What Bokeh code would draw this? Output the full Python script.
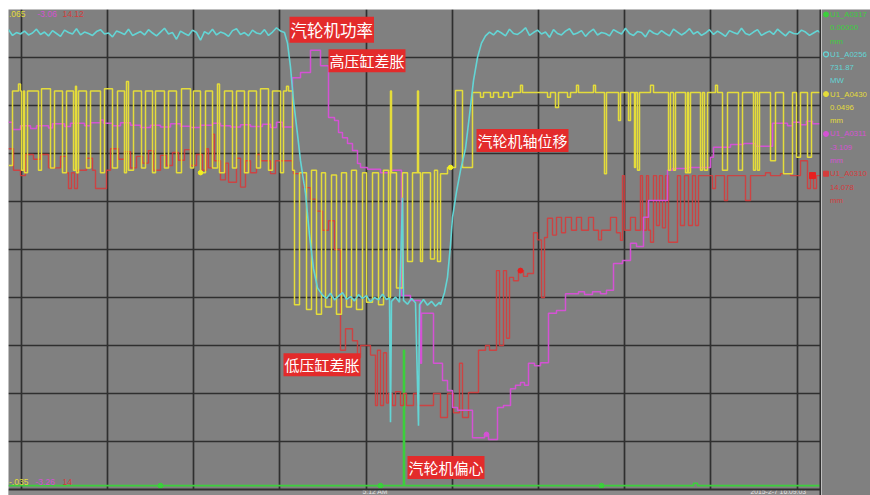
import numpy as np
from bokeh.plotting import figure
from bokeh.layouts import row, column
from bokeh.models import (Range1d, Grid, FixedTicker, Span, BoxAnnotation, Label,
                          ColumnDataSource, Spacer)
from bokeh.core.properties import value
from bokeh.embed import file_html
from bokeh.resources import INLINE

# ---------------------------------------------------------------------------
# Trend data. x = sample number across the window (0 .. 813),
# y = position inside each tag's own scale, in percent of the span (0 .. 100).
# ---------------------------------------------------------------------------
N_SAMPLES = 813

# turbine power (U1_A0256) - noisy plateau before the load drop
power_before = [95.8, 94.6, 95.2, 94.9, 95.5, 94.7, 95.1, 95.9, 94.8, 95.3,
                94.5, 95.6, 95.0, 94.4, 95.7, 95.2, 94.9, 96.0, 94.7, 95.3,
                95.0, 94.6, 95.4, 95.8, 94.9, 95.1, 94.3, 95.5, 95.2, 94.8,
                95.9, 94.6, 95.0, 95.4, 94.7, 95.8, 95.1, 94.5, 95.3, 96.1,
                94.9, 95.2, 93.8, 95.5, 95.0, 94.6, 95.7, 95.2, 93.6, 95.4,
                94.9, 95.9, 94.7, 95.3, 95.0, 94.4, 95.6, 96.0, 94.8, 95.2,
                94.5, 95.7, 95.1, 94.9, 95.8, 94.6, 95.3, 96.2, 95.5]
power_before_span = (0, 272)
# load drop, low-load period and recovery
power_mid_x = [276, 279, 282, 285, 289, 292, 297, 301, 305, 309, 314,
               318, 322, 326, 330, 334, 338, 342, 346, 350, 354, 358, 362,
               366, 370, 374, 378, 381, 382, 383, 387, 391, 394, 395, 399,
               403, 407, 410, 411, 415, 419, 423, 427, 431,
               432, 436, 439, 442, 444, 448, 452, 457, 461, 465, 469, 473, 477]
power_mid_y = [95.2, 93.0, 88.0, 81.0, 74.0, 68.5, 61.7, 53.0, 46.0, 42.0, 40.5,
               39.8, 40.9, 39.5, 40.3, 41.0, 39.6, 40.2, 39.3, 40.6, 39.8, 40.4, 39.1,
               40.0, 39.5, 40.7, 39.6, 39.9, 14.0, 39.2, 40.1, 39.0, 60.8, 39.4, 38.6,
               39.8, 38.9, 13.3, 38.5, 39.6, 38.4, 39.2, 38.2, 39.0,
               38.5, 41.0, 44.2, 51.0, 56.7, 62.0, 66.5, 71.0, 78.0, 85.2, 90.0, 93.0, 94.5]
# noisy plateau after recovery
power_after = [95.3, 94.7, 95.6, 95.1, 94.5, 95.9, 95.0, 94.8, 95.4, 96.2,
               94.6, 95.2, 95.7, 94.9, 95.3, 94.2, 95.8, 95.0, 94.7, 95.5,
               96.0, 94.8, 95.1, 95.6, 94.4, 95.3, 95.9, 94.7, 95.2, 95.0,
               94.5, 95.8, 95.3, 94.9, 96.1, 95.0, 94.6, 95.4, 95.2, 94.3,
               95.7, 95.1, 94.8, 95.6, 95.0, 94.5, 95.9, 95.3, 94.7, 95.2,
               96.0, 94.9, 95.4, 94.6, 95.1, 95.8, 94.8, 95.5, 95.0, 94.4,
               95.6, 95.2, 94.9, 96.1, 95.0, 94.7, 95.3, 95.8, 94.6, 95.1,
               95.5, 94.8, 95.9, 95.2, 94.5, 95.4, 95.0, 94.9, 95.7, 95.3,
               94.6, 95.1, 95.6, 95.0]
power_after_span = (481, 813)

# turbine axial displacement (U1_A0430), stepped record
axial_x = [0, 4, 10, 12, 13, 15, 16, 19, 30, 33, 42, 46, 54, 58, 65, 67, 68, 70,
           78, 82, 92, 96, 104, 109, 116, 118, 120, 125, 133, 137, 144, 147, 156,
           160, 168, 173, 182, 185, 192, 197, 204, 209, 211, 216, 224, 228, 236,
           240, 248, 252, 260, 264, 272, 275, 278, 280, 284,
           286, 291, 298, 303, 308, 313, 317, 323, 328, 333, 338, 343, 348, 354,
           358, 364, 370, 375, 380, 382, 383, 388, 394, 399, 404, 409, 410, 412,
           414, 422, 426, 429, 432, 439, 447, 454, 464,
           472, 475, 482, 485, 490, 495, 500, 504, 512, 514, 539, 542, 547, 550,
           559, 562, 568, 570, 585, 587, 596, 598, 610, 612, 620, 622, 626, 627,
           629, 631, 642, 645, 660, 662, 665, 667, 677, 679, 680, 682, 692, 694,
           696, 699, 707, 709, 714, 719, 730, 734, 745, 747, 749, 751, 762, 767,
           775, 784, 788, 792, 799, 803, 813]
axial_y = [67.5, 83.0, 84.5, 83.0, 66.5, 83.0, 66.0, 83.0, 66.5, 83.5, 67.0, 83.0,
           66.0, 83.0, 66.5, 84.0, 66.0, 83.0, 67.0, 83.0, 66.0, 83.5, 67.0, 83.0,
           66.0, 85.0, 66.5, 83.0, 67.0, 83.0, 66.0, 83.0, 67.0, 83.0, 66.0, 83.5,
           67.0, 83.0, 66.0, 83.0, 67.0, 84.5, 66.0, 83.0, 67.0, 83.0, 66.0, 83.0,
           67.0, 83.5, 66.5, 83.0, 66.0, 83.0, 84.0, 83.0, 66.5,
           38.5, 66.0, 37.5, 66.5, 36.5, 66.0, 38.0, 65.5, 36.5, 66.0, 38.0, 66.5,
           37.5, 66.0, 39.0, 66.0, 38.5, 66.5, 40.0, 83.0, 66.0, 42.0, 66.0, 47.5,
           66.0, 83.0, 66.0, 47.5, 66.0, 48.0, 66.5, 47.5, 65.8, 67.1, 83.1, 67.1,
           82.7,
           81.7, 82.7, 81.7, 82.7, 81.7, 82.7, 81.7, 82.7, 84.2, 82.7, 81.7, 82.7,
           79.6, 82.7, 81.7, 82.7, 84.2, 82.7, 84.2, 82.7, 65.8, 82.7, 76.9, 82.7,
           76.9, 82.7, 67.1, 82.7, 66.5, 82.7, 84.2, 82.7, 66.5, 82.7, 66.5, 82.7,
           66.0, 82.7, 66.0, 82.7, 66.5, 82.7, 66.5, 82.7, 84.2, 82.7, 66.5, 82.7,
           66.5, 82.7, 66.5, 82.7, 66.5, 82.7, 68.5, 82.7, 65.8, 82.7, 69.2, 82.7,
           69.2, 82.7, 82.7]

# HP cylinder differential expansion (U1_A0311)
hp_x = [0, 4, 12, 22, 28, 40, 44, 56, 62, 76, 82, 92, 95, 104, 112, 122, 132, 142,
        152, 162, 172, 182, 192, 204, 212, 222, 232, 242, 254, 262, 268, 274,
        284, 292, 302, 312, 320, 326, 330, 334, 339, 344, 349, 352, 359, 372, 382,
        393, 402, 412, 413, 425, 434, 439, 444, 449, 464, 476, 480, 489, 495, 502,
        507, 512, 516, 520, 526, 532, 540, 548, 557, 570, 576, 584, 592, 598, 605,
        614, 622, 628, 635, 640, 659, 664, 679, 702, 705, 722, 735, 747, 764, 779,
        784, 792, 798, 804, 813]
hp_y = [76.5, 75.0, 75.8, 75.2, 75.8, 75.3, 76.2, 75.6, 76.3, 75.8, 76.4, 77.0, 76.3,
        75.8, 76.4, 75.9, 75.4, 75.9, 75.5, 76.2, 75.7, 75.4, 75.9, 76.3, 75.8, 75.5,
        76.0, 75.6, 76.1, 75.4, 76.5, 75.5,
        85.8, 86.9, 91.5, 88.3, 77.5, 76.9, 74.4, 73.3, 72.1, 70.6, 67.9, 67.1, 66.7,
        66.0, 66.5, 40.4, 39.4, 26.3, 36.7, 26.3, 22.7, 20.6, 17.1, 16.5, 10.8, 11.5,
        10.4, 17.1, 17.5, 21.0, 21.7, 22.3, 21.7, 26.3, 25.8, 26.4, 36.7, 37.3, 40.8,
        41.2, 40.6, 41.2, 40.8, 41.5, 47.1, 47.7, 51.3, 50.6, 56.7, 60.2, 66.5, 66.9,
        67.1, 69.2, 71.3, 71.9, 72.1, 71.5, 76.3, 75.8, 76.5, 76.0, 76.7, 76.2, 76.2]

# LP cylinder differential expansion (U1_A0310)
lp_x = [0, 5, 12, 17, 25, 32, 40, 52, 58, 60, 63, 66, 69, 78, 84, 87, 98, 102, 110,
        116, 122, 128, 134, 140, 145, 152, 158, 164, 170, 176, 182, 188, 194, 198,
        200, 204, 206, 212, 217, 220, 228, 232, 237, 242, 248, 252, 262, 267, 284,
        285, 295, 302, 308, 314, 320, 326, 332, 337, 344, 349, 352, 362, 367, 369,
        372, 375, 378, 380, 384, 387, 392, 395, 398, 405, 409, 425, 432, 439, 445,
        451, 454, 460, 470, 477, 481, 488, 491, 495, 498, 501, 505, 510, 515, 519,
        525, 529, 533, 536, 539, 544, 548, 553, 557, 563, 568, 573, 580, 585, 590,
        593, 602, 608, 612, 614, 616, 622, 627, 632, 634, 638, 640, 642, 645, 648,
        651, 654, 657, 660, 669, 672, 676, 680, 684, 687, 690, 704, 707, 716, 719,
        737, 742, 757, 762, 772, 782, 792, 799, 802, 805, 808, 813]
lp_y = [71.0, 66.5, 65.4, 69.8, 68.8, 69.8, 67.0, 69.4, 66.0, 62.7, 66.0, 62.7, 66.5,
        69.0, 66.5, 62.7, 66.5, 71.0, 68.8, 70.4, 67.0, 69.4, 68.0, 70.6, 66.5, 69.6,
        67.5, 70.2, 68.6, 70.8, 67.5, 69.8, 66.5, 71.0, 67.0, 74.0, 68.5, 64.5, 68.0,
        64.0, 69.0, 63.0, 68.5, 66.0, 69.8, 68.5, 65.8, 68.5, 66.5, 65.8, 62.9, 60.5,
        58.0, 54.0, 56.0, 50.0, 29.0, 33.5, 31.0, 27.5, 30.0, 28.0, 17.5, 29.0, 17.5,
        28.5, 18.0, 20.0, 17.5, 20.4, 17.5, 20.0, 17.5, 20.0, 17.5, 20.0, 15.0, 20.0,
        16.0, 26.3, 15.0, 20.2, 29.0, 30.0, 29.0, 45.6, 30.0, 45.6, 31.5, 44.2, 43.5,
        45.6, 44.4, 45.0, 53.5, 52.0, 40.0, 52.5, 56.5, 53.0, 56.7, 53.5, 56.7, 54.0,
        56.7, 54.0, 56.7, 54.0, 52.0, 54.0, 56.7, 53.5, 51.9, 65.4, 54.0, 56.7, 54.0,
        65.4, 54.0, 65.4, 54.0, 51.5, 65.4, 55.0, 65.4, 54.5, 65.4, 51.5, 65.4, 55.0,
        65.4, 55.0, 65.4, 55.0, 65.4, 62.7, 65.4, 60.2, 65.4, 60.2, 65.4, 66.0, 65.4,
        65.8, 65.4, 68.5, 62.7, 65.4, 62.7, 65.4, 65.4]

# turbine eccentricity (U1_A0317)
ecc_x = [0, 395, 396, 685, 689, 813]
ecc_y = [0.8, 29.0, 0.8, 1.3, 0.8, 0.8]

# sample numbers carrying a cursor dot on each trace
ecc_dots = [152, 372, 593]
axial_dots = [192, 442]
hp_dots = [478]
lp_dots = [512]
lp_cursor = [804]

# time grid (one line every 5 minutes) and the scale grid
time_grid = [12.7, 98.9, 185.1, 271.3, 357.5, 443.7, 529.9, 616.1, 702.3, 788.5]
level_grid = [10, 20, 30, 40, 50, 60, 70, 80, 90]
time_labels = ["5:12 AM", "2015-2-7 16:09:03"]
time_label_x = [354, 742]

# scale limits printed in the corners (axial, HP expansion, LP expansion)
scale_top = [".065", "-3.06", "14.12"]
scale_bottom = ["-.035", "-3.26", "14"]

# legend panel: tag, current value, unit
tags = ["U1_A0317", "U1_A0256", "U1_A0430", "U1_A0311", "U1_A0310"]
readings = ["0.00000", "731.87", "0.0496", "-3.109", "14.078"]
units = ["mm", "MW", "mm", "mm", "mm"]

# callouts naming the traces
callouts = ["汽轮机功率", "高压缸差胀", "汽轮机轴位移", "低压缸差胀", "汽轮机偏心"]

# ---------------------------------------------------------------------------
PANEL = "#808080"
GRID = "#2f2f2f"
C_POWER = "#63d5d5"
C_AXIAL = "#e4dc3a"
C_HP = "#d452d4"
C_LP = "#d43c3c"
C_ECC = "#3ccf3c"
TAG_COLORS = [C_ECC, C_POWER, C_AXIAL, C_HP, C_LP]
CALLOUT_BG = "#e32b2b"


def step_value(xs, ys, at):
    idx = np.searchsorted(np.asarray(xs), np.asarray(at), side="right") - 1
    return [ys[i] for i in idx]


def bare_figure(width, height, x_range, y_range):
    fig = figure(width=width, height=height, x_range=x_range, y_range=y_range,
                 output_backend="svg", toolbar_location=None,
                 x_axis_location=None, y_axis_location=None, min_border=0,
                 background_fill_color=PANEL, border_fill_color=PANEL,
                 outline_line_color=None)
    fig.center = [c for c in fig.center if not isinstance(c, Grid)]
    return fig


p = bare_figure(813, 486, Range1d(0, N_SAMPLES), Range1d(-1.25, 100))

p.add_layout(Grid(dimension=0, ticker=FixedTicker(ticks=time_grid),
                  grid_line_color=GRID, grid_line_width=1.7))
p.add_layout(Grid(dimension=1, ticker=FixedTicker(ticks=level_grid),
                  grid_line_color=GRID, grid_line_width=1.7))
p.add_layout(BoxAnnotation(top=0, fill_color="#8a8a8a", fill_alpha=1.0,
                           line_color=None, level="underlay"))
p.add_layout(Span(location=0, dimension="width", line_color=GRID, line_width=2))
p.add_layout(Span(location=N_SAMPLES - 1, dimension="height", line_color=GRID, line_width=2))

# traces
p.step(ecc_x, ecc_y, mode="after", line_color=C_ECC, line_width=1.6)
p.step(lp_x, lp_y, mode="after", line_color=C_LP, line_width=1.4, line_alpha=0.9)
p.step(hp_x, hp_y, mode="after", line_color=C_HP, line_width=1.5)
p.step(axial_x, axial_y, mode="after", line_color=C_AXIAL, line_width=1.5)

power_x = (list(np.linspace(*power_before_span, len(power_before))) + power_mid_x
           + list(np.linspace(*power_after_span, len(power_after))))
power_y = power_before + power_mid_y + power_after
p.line(power_x, power_y, line_color=C_POWER, line_width=1.6)

# cursor dots
p.scatter(ecc_dots, step_value(ecc_x, ecc_y, ecc_dots), size=5, color=C_ECC)
p.scatter(axial_dots, step_value(axial_x, axial_y, axial_dots), size=4.5, color="#f2f020")
p.scatter(hp_dots, step_value(hp_x, hp_y, hp_dots), size=4.5, color=C_HP)
p.scatter(lp_dots, step_value(lp_x, lp_y, lp_dots), size=5, color="#e82020")
p.scatter(lp_cursor, step_value(lp_x, lp_y, lp_cursor), marker="square", size=6, color="#e82020")

# scale limits in the corners
corner_colors = [C_AXIAL, C_HP, C_LP]
p.text(x=[0.5, 29, 54], y=[99.0] * 3, text=scale_top, text_color=corner_colors,
       text_font=value("Liberation Sans"), text_font_size="8.5px", text_baseline="middle")
p.text(x=[0.5, 27, 54], y=[1.6] * 3, text=scale_bottom, text_color=corner_colors,
       text_font=value("Liberation Sans"), text_font_size="8.5px", text_baseline="middle")

# time stamps under the chart
p.text(x=time_label_x, y=[-1.2] * 2, text=time_labels, text_color="#e4e4e4",
       text_font=value("Liberation Sans"), text_font_size="6.8px", text_baseline="bottom")

# red callouts
callout_pos = [(281, 95.8, "16.5px"), (320, 89.3, "15px"), (468, 72.7, "15px"),
               (275, 26.0, "15px"), (399, 4.6, "15px")]
for txt, (cx, cy, fs) in zip(callouts, callout_pos):
    p.add_layout(Label(x=cx, y=cy, text=txt, text_color="white", text_font="Noto Sans CJK SC",
                       text_font_size=fs, text_baseline="middle", text_align="left",
                       background_fill_color=CALLOUT_BG, background_fill_alpha=1.0,
                       padding=1))

# legend panel on the right
lg = bare_figure(49, 486, Range1d(0, 49), Range1d(0, 486))

row_top = [481 - 39.8 * i for i in range(len(tags))]
lines_x, lines_y, lines_t, lines_c = [], [], [], []
for i, top in enumerate(row_top):
    for k, t in enumerate([tags[i], readings[i], units[i]]):
        lines_x.append(8.5)
        lines_y.append(top - 13.3 * k)
        lines_t.append(t)
        lines_c.append(TAG_COLORS[i])
lg.text(x="x", y="y", text="t", text_color="c",
        source=ColumnDataSource(dict(x=lines_x, y=lines_y, t=lines_t, c=lines_c)),
        text_font=value("Liberation Sans"), text_font_size="7.8px", text_baseline="middle")
markers = ["circle", "circle", "circle", "circle", "square"]
for i, top in enumerate(row_top):
    if i == 1:
        lg.scatter([4.5], [top], marker="circle", size=5, fill_color=None,
                   line_color=TAG_COLORS[i], line_width=1.2)
    else:
        lg.scatter([4.5], [top], marker=markers[i], size=5, color=TAG_COLORS[i])

layout = column(Spacer(width=870, height=9),
                row(Spacer(width=8, height=486), p, lg))

open("out.html", "w").write(file_html(layout, INLINE))
